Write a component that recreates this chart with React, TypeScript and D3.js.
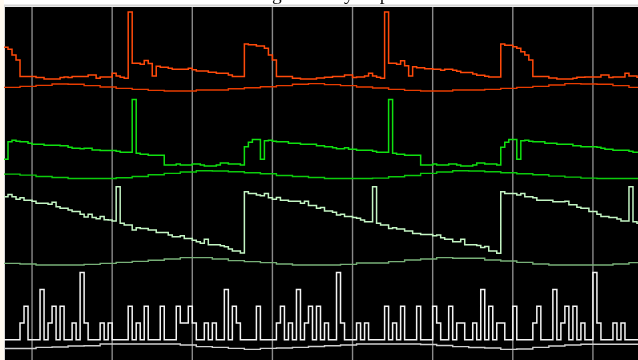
import React from "react";
import * as d3 from "d3";

const W = 638;
const H = 360;

const title = "Firing intensity of place cells";

// Time axis: 160 bins, the first one starting at t = -7; grid every 20 bins
const binStart = -7;
const binCount = 160;
const gridTimes = [0, 20, 40, 60, 80, 100, 120, 140];

// Step traces stored as change points: [bin index, rate]
const redRate: [number, number][] = [
  [0, 13.0], [1, 12.4], [2, 10.7], [3, 9.2], [4, 4.3], [8, 4.0], [10, 3.6], [14, 4.0], [15, 4.2], [16, 4.0],
  [17, 4.3], [21, 4.8], [23, 3.8], [24, 4.2], [27, 5.3], [28, 4.5], [29, 4.1], [30, 3.8], [31, 23.5], [32, 8.3],
  [34, 8.0], [35, 9.1], [36, 8.2], [37, 4.5], [38, 7.4], [39, 7.1], [41, 6.8], [42, 6.5], [46, 6.8], [47, 6.3],
  [48, 6.0], [51, 5.6], [53, 5.3], [56, 4.8], [57, 4.3], [60, 14.0], [61, 13.8], [63, 13.4], [65, 12.7], [66, 10.7],
  [67, 9.2], [68, 4.3], [72, 3.8], [74, 3.6], [78, 3.9], [80, 4.1], [82, 4.3], [85, 4.8], [87, 4.0], [88, 4.2],
  [90, 4.5], [91, 5.3], [92, 4.5], [93, 4.1], [94, 3.8], [95, 23.5], [96, 8.3], [98, 8.0], [99, 9.0], [100, 7.5],
  [101, 4.5], [102, 7.2], [103, 6.9], [105, 6.6], [107, 6.5], [109, 6.2], [110, 6.5], [112, 6.2], [113, 5.9], [114, 5.5],
  [117, 5.1], [118, 4.7], [120, 4.4], [121, 4.2], [124, 14.0], [125, 13.6], [127, 13.2], [128, 12.7], [129, 11.7], [130, 10.7],
  [131, 9.2], [132, 4.3], [136, 3.9], [138, 3.6], [142, 3.8], [143, 4.1], [145, 4.2], [149, 4.8], [151, 4.0], [152, 4.2],
  [155, 5.3], [156, 4.5], [158, 4.1],
];

const greenRate: [number, number][] = [
  [0, 5.7], [1, 10.9], [2, 11.4], [3, 11.1], [4, 10.9], [6, 10.5], [7, 10.2], [10, 9.9], [14, 9.7], [16, 9.3],
  [17, 9.0], [19, 8.8], [20, 9.0], [22, 8.5], [24, 8.3], [28, 8.1], [29, 7.8], [32, 23.5], [33, 7.5], [34, 7.2],
  [36, 6.9], [40, 4.0], [43, 4.3], [44, 4.0], [47, 4.3], [49, 4.0], [50, 3.7], [53, 4.0], [54, 4.6], [56, 4.3],
  [59, 4.0], [60, 9.4], [61, 10.8], [62, 11.6], [64, 5.7], [65, 11.2], [66, 11.4], [67, 11.1], [68, 10.9], [71, 10.5],
  [74, 10.2], [78, 9.7], [80, 9.4], [82, 9.1], [83, 8.8], [85, 9.1], [86, 8.7], [88, 8.4], [92, 8.1], [93, 7.8],
  [96, 23.5], [97, 7.5], [98, 7.2], [100, 6.9], [104, 4.0], [107, 4.3], [108, 4.0], [111, 4.3], [113, 4.0], [114, 3.7],
  [117, 4.0], [118, 4.6], [120, 4.3], [123, 4.0], [124, 9.3], [125, 10.8], [126, 11.6], [128, 5.7], [129, 11.2], [130, 11.4],
  [131, 11.1], [132, 10.9], [135, 10.5], [138, 10.2], [142, 9.7], [144, 9.4], [148, 9.3], [149, 9.0], [150, 8.7], [152, 8.4],
  [156, 8.1], [157, 7.8],
];

const paleRate: [number, number][] = [
  [0, 20.3], [1, 21.0], [2, 20.3], [3, 19.6], [4, 20.0], [5, 19.3], [7, 19.0], [8, 18.4], [11, 18.1], [12, 18.7],
  [13, 17.3], [14, 16.9], [16, 16.4], [17, 15.9], [19, 15.1], [20, 14.3], [21, 15.1], [22, 14.1], [23, 13.8], [24, 14.4],
  [25, 13.5], [26, 13.4], [27, 13.1], [28, 23.3], [29, 12.4], [30, 11.9], [32, 10.4], [33, 11.1], [34, 10.9], [36, 10.4],
  [38, 9.7], [41, 8.9], [42, 8.4], [44, 8.7], [45, 7.9], [47, 7.4], [48, 6.9], [49, 6.5], [50, 7.7], [51, 6.0],
  [54, 5.7], [55, 5.4], [56, 4.8], [57, 4.2], [59, 3.6], [60, 21.8], [61, 21.3], [63, 20.8], [64, 20.6], [65, 21.3],
  [66, 20.0], [67, 19.6], [68, 20.1], [69, 19.3], [71, 19.0], [74, 18.4], [75, 19.0], [76, 17.7], [78, 16.9], [79, 17.1],
  [80, 16.1], [82, 15.7], [83, 14.9], [84, 15.1], [85, 14.4], [87, 14.1], [88, 13.9], [89, 13.4], [90, 12.9], [92, 23.3],
  [93, 12.4], [94, 11.9], [96, 10.9], [97, 11.1], [98, 10.7], [100, 10.1], [102, 9.4], [104, 9.1], [107, 8.7], [108, 8.9],
  [109, 8.1], [110, 7.7], [112, 6.9], [114, 7.7], [115, 6.0], [118, 5.8], [119, 5.2], [120, 5.5], [121, 4.2], [123, 3.5],
  [124, 21.8], [125, 21.3], [128, 20.8], [129, 21.3], [130, 20.3], [132, 20.0], [133, 19.3], [137, 18.8], [140, 19.0], [141, 17.9],
  [143, 17.2], [144, 16.9], [146, 15.9], [148, 15.1], [149, 14.4], [151, 14.1], [153, 13.7], [154, 13.1], [156, 23.3], [157, 12.9],
  [158, 12.4],
];

// Spike counts per bin (5 Hz per spike)
const whiteRate: number[] = [
  0, 0, 0, 0, 5, 10, 0, 0, 0, 15, 0, 5, 10, 0, 10, 0, 0, 5, 0, 20,
  5, 0, 0, 0, 5, 0, 5, 0, 0, 0, 0, 10, 0, 5, 0, 10, 0, 0, 0, 10,
  0, 0, 0, 10, 5, 5, 10, 5, 0, 0, 5, 0, 5, 0, 0, 15, 0, 10, 5, 0,
  0, 0, 0, 10, 0, 0, 0, 0, 5, 10, 0, 5, 0, 15, 0, 5, 10, 0, 10, 0,
  5, 0, 0, 20, 5, 0, 0, 0, 5, 0, 5, 0, 0, 0, 0, 10, 0, 5, 0, 10,
  0, 0, 0, 10, 0, 0, 0, 10, 5, 0, 0, 10, 0, 5, 5, 0, 0, 5, 0, 15,
  0, 10, 0, 5, 5, 0, 0, 10, 0, 0, 0, 0, 5, 10, 0, 0, 0, 15, 0, 5,
  10, 0, 10, 0, 5, 0, 0, 20, 5, 0, 0, 0, 5, 0, 5, 0, 0, 0, 0, 0,
];

// Slow reference signals, one value per 4 bins
const redSlow = [
  1.1, 1.4, 1.7, 2.1, 2.0, 1.6, 1.2, 0.8, 0.5, 0.2, 0.0, 0.0, 0.3, 0.3, 0.7, 1.0, 1.3, 1.6, 2.0, 2.2,
  1.9, 1.6, 1.2, 0.9, 0.5, 0.2, 0.0, 0.0, 0.3, 0.3, 0.5, 0.8, 1.1, 1.4, 1.8, 2.2, 2.1, 2.0, 1.6, 1.1,
];
const greenSlow = [
  1.3, 1.0, 0.6, 0.3, 0.0, 0.0, 0.0, 0.2, 0.6, 1.1, 1.5, 1.9, 2.3, 2.2, 2.0, 1.7, 1.4, 0.9, 0.6, 0.3,
  0.0, 0.0, 0.0, 0.1, 0.5, 0.9, 1.5, 1.9, 2.3, 2.2, 2.0, 1.7, 1.4, 1.1, 0.7, 0.4, 0.1, 0.0, 0.0, 0.0,
];
const paleSlow = [
  0.5, 0.3, 0.0, 0.0, 0.0, 0.2, 0.5, 0.8, 1.1, 1.4, 1.8, 2.2, 2.2, 1.8, 1.3, 1.0, 0.7, 0.3, 0.0, 0.0,
  0.0, 0.2, 0.6, 0.6, 1.0, 1.5, 1.8, 2.2, 2.0, 2.0, 1.5, 1.2, 0.8, 0.3, 0.0, 0.0, 0.0, 0.0, 0.3, 0.7,
];
const whiteSlow = [
  0.3, 0.3, 0.65, 0.75, 1.05, 1.1, 1.65, 1.65, 1.65, 1.65, 1.65, 1.35, 0.85, 0.65, 0.35, 0.05, 0.35, 0.45, 0.65, 0.9,
  1.1, 1.35, 1.65, 1.65, 1.65, 1.65, 1.5, 1.2, 0.85, 0.6, 0.45, 0.05, 0.15, 0.65, 1.05, 1.35, 1.55, 1.55, 1.55, 1.55,
];

type Pt = [number, number];

export default function App() {
  const plotLeft = 4;
  const plotTop = 7;

  const x = d3.scaleLinear().domain([binStart, binStart + binCount]).range([plotLeft, 645]);
  const y = d3.scaleLinear().domain([0, 105]).range([H, plotTop]);

  const step = d3
    .line<Pt>()
    .x((d) => x(d[0]))
    .y((d) => y(d[1]))
    .curve(d3.curveStepAfter);

  const fromChanges = (changes: [number, number][], offset: number): Pt[] => {
    const pts: Pt[] = changes.map(([i, v]) => [binStart + i, v + offset]);
    pts.push([binStart + binCount, changes[changes.length - 1][1] + offset]);
    return pts;
  };
  const fromBins = (vals: number[], binsPer: number, offset: number): Pt[] => {
    const pts: Pt[] = vals.map((v, j) => [binStart + j * binsPer, v + offset]);
    pts.push([binStart + vals.length * binsPer, vals[vals.length - 1] + offset]);
    return pts;
  };

  const bands = [
    { fast: fromChanges(redRate, 80), slow: fromBins(redSlow, 4, 80), fastColor: "#ff4a0a", slowColor: "#e83c00" },
    { fast: fromChanges(greenRate, 54), slow: fromBins(greenSlow, 4, 54), fastColor: "#10e010", slowColor: "#0ccc0c" },
    { fast: fromChanges(paleRate, 28.25), slow: fromBins(paleSlow, 4, 28.25), fastColor: "#c4f5c4", slowColor: "#78b078" },
    { fast: fromBins(whiteRate, 1, 6), slow: fromBins(whiteSlow, 4, 3.12), fastColor: "#f4f4f4", slowColor: "#d0d0d0" },
  ];

  return (
    <svg
      width={W}
      height={H}
      style={{ position: "fixed", left: 0, top: 0, display: "block" }}
      fontFamily="'Liberation Serif', 'DejaVu Serif', serif"
    >
      <rect x={0} y={0} width={W} height={H} fill="#ffffff" />
      <rect x={0} y={0} width={plotLeft} height={H} fill="#fffaf0" />
      <text x={234} y={0} fontSize={19.5} fill="#111">
        {title}
      </text>
      <rect x={plotLeft} y={plotTop} width={W} height={H} fill="#000" />
      <line x1={plotLeft} x2={W} y1={5.5} y2={5.5} stroke="#d4d4d4" strokeWidth={2} />
      <line x1={plotLeft + 0.5} x2={plotLeft + 0.5} y1={5} y2={H} stroke="#d8d8d8" strokeWidth={1} />
      {gridTimes.map((t) => (
        <line key={t} x1={x(t)} x2={x(t)} y1={plotTop} y2={H} stroke="#8a8a8a" strokeWidth={1.4} />
      ))}
      {bands.map((b, k) => (
        <g key={k} fill="none" strokeLinejoin="miter">
          <path d={step(b.slow) ?? ""} stroke={b.slowColor} strokeWidth={1.4} />
          <path d={step(b.fast) ?? ""} stroke={b.fastColor} strokeWidth={1.5} />
        </g>
      ))}
    </svg>
  );
}
